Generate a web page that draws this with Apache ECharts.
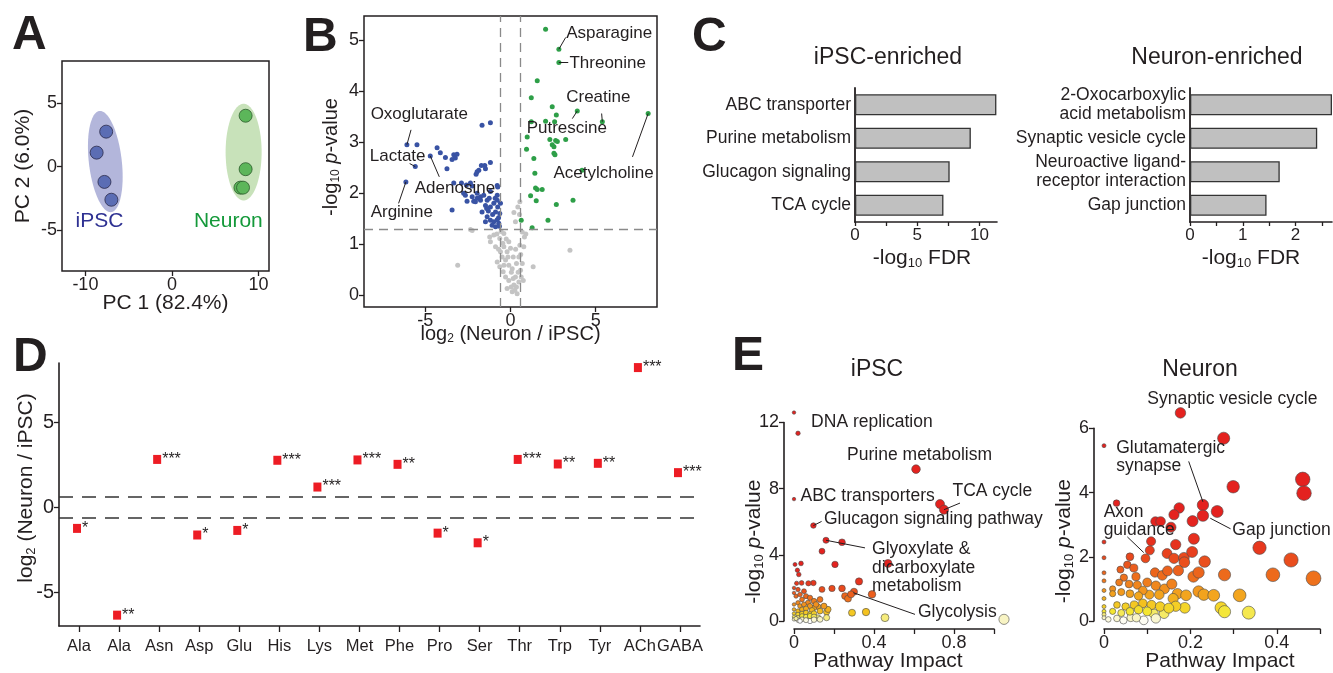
<!DOCTYPE html>
<html>
<head>
<meta charset="utf-8">
<script src="https://cdn.jsdelivr.net/npm/echarts@6/dist/echarts.min.js"></script>
<style>
  html, body { margin: 0; padding: 0; background: #fff; }
  #chart { width: 1333px; height: 673px; }
</style>
</head>
<body>
<div id="chart"></div>
<script>
// ---- panel A: PCA scores ----
const aIpsc = [[-7.6, 2.75], [-8.7, 1.1], [-7.8, -1.2], [-7.0, -2.6]];
const aNeuron = [[8.5, 4.0], [8.5, -0.2], [7.9, -1.65], [8.2, -1.65]];
// ellipse: centre x, centre y, half width, half height (data units), tilt in degrees
const aEllipseIpsc = [-7.7, 0.4, 1.9, 4.0, -6.6];
const aEllipseNeuron = [8.27, 1.14, 2.08, 3.8, 0];
const aGroupNames = ['iPSC', 'Neuron'];
const aGroupLabelPos = [[-11.2, -4.3], [2.47, -4.3]];

// ---- panel B: volcano ----
const bBlue = [[-6.08,2.95],[-5.49,2.95],[-5.59,2.52],[-6.14,2.22],[-4.71,2.73],[-4.31,2.89],[-4.12,2.79],[-3.82,2.70],[-3.73,2.48],[-3.33,2.75],[-3.14,2.76],[-3.43,2.66],[-3.24,2.69],[-3.43,1.67],[-1.67,3.33],[-1.18,3.38],[-1.18,2.60],[-1.51,2.54],[-1.71,2.54],[-1.86,2.45],[-1.96,2.42],[-2.02,2.37],[-1.47,2.48],[-3.33,2.20],[-2.88,2.20],[-2.75,2.00],[-2.59,2.16],[-2.35,2.20],[-2.25,2.14],[-1.96,2.00],[-2.55,1.84],[-2.16,1.84],[-1.96,1.90],[-1.76,1.93],[-0.78,2.15],[-2.65,1.96],[-2.25,1.93],[-2.06,1.83],[-1.76,1.86],[-1.47,1.76],[-1.18,1.73],[-0.98,1.80],[-0.78,1.86],[-0.75,1.73],[-0.63,1.60],[-1.67,1.63],[-1.37,1.54],[-1.18,1.47],[-0.98,1.44],[-0.78,1.48],[-0.69,1.41],[-1.47,1.44],[-0.88,1.63],[-0.59,1.80],[-0.75,2.12],[-1.18,2.03],[-0.78,1.96],[-1.57,1.96],[-1.37,1.86],[-0.88,1.34],[-1.08,1.37],[-1.30,1.65],[-1.05,1.58],[-0.70,1.52],[-1.25,1.90],[-0.90,1.90],[-0.65,1.35],[-1.40,1.70]];
const bGreen = [[2.06,5.21],[2.84,4.82],[2.84,4.56],[1.57,4.20],[1.22,3.87],[3.92,3.61],[5.39,3.40],[8.08,3.56],[2.45,3.69],[2.69,3.53],[2.06,3.41],[1.22,3.40],[0.98,3.10],[2.31,3.05],[2.65,3.03],[2.55,2.91],[2.75,3.01],[3.24,3.05],[2.55,2.78],[2.61,2.75],[0.94,2.86],[1.37,2.68],[1.43,2.39],[1.47,2.10],[1.57,2.07],[1.86,2.07],[1.18,1.95],[1.51,1.85],[2.69,1.78],[3.67,1.86],[0.63,1.47],[2.20,1.47],[1.27,1.32],[4.20,2.45],[2.59,3.40],[2.45,2.95]];
const bGray = [[-2.35,1.29],[-3.10,0.59],[3.49,0.88],[1.33,0.56],[0.55,1.83],[0.43,1.73],[0.20,1.62],[0.29,1.44],[0.53,1.58],[-2.25,1.27],[-1.22,1.14],[-0.98,1.18],[-1.18,1.05],[-0.88,0.95],[-0.63,1.11],[-0.39,1.21],[-0.10,1.05],[-0.59,0.85],[-0.49,0.75],[-0.78,0.65],[-0.63,0.56],[-0.43,0.46],[-0.29,0.36],[-0.10,0.29],[0.04,0.16],[0.10,0.07],[-0.20,0.13],[0.20,0.20],[0.39,0.03],[0.29,0.36],[0.59,0.49],[0.69,0.62],[0.35,0.62],[0.10,0.52],[0.16,0.75],[0.00,0.92],[0.55,0.98],[0.82,1.14],[0.69,1.24],[-0.39,0.95],[-0.20,0.85],[-0.29,0.69],[-0.10,0.59],[-0.39,0.59],[0.16,0.33],[0.35,0.16],[0.49,0.26],[0.63,0.36],[0.75,0.29],[0.49,0.75],[0.78,0.95],[-0.55,1.25],[-0.45,1.02],[-0.70,0.90],[-0.25,1.10],[0.05,0.45],[0.25,0.10],[0.45,0.45],[0.60,0.80],[-0.15,0.75],[0.30,0.90],[0.90,1.20],[-0.80,1.20]];
const bLabelText = ['Asparagine', 'Threonine', 'Creatine', 'Putrescine', 'Acetylcholine', 'Oxoglutarate', 'Lactate', 'Adenosine', 'Arginine'];
const bLabelPos = [[3.24,5.13],[3.43,4.54],[3.24,3.87],[0.92,3.27],[2.49,2.39],[-8.24,3.54],[-8.29,2.73],[-5.65,2.09],[-8.24,1.63]];
const bLeaders = [[[2.84,4.82],[3.24,5.05]],[[2.84,4.56],[3.39,4.56]],[[5.39,3.40],[5.35,3.56]],[[3.92,3.61],[3.63,3.46]],[[8.08,3.56],[7.16,2.71]],[[-6.08,2.95],[-5.84,3.24]],[[-5.59,2.52],[-5.92,2.58]],[[-4.71,2.73],[-4.18,2.32]],[[-6.14,2.22],[-6.57,1.80]]];
const bFoldCut = 0.585;
const bPCut = 1.3;

// ---- panel C: enrichment ----
const c1Names = ['ABC transporter', 'Purine metabolism', 'Glucagon signaling', 'TCA cycle'];
const c1Vals = [11.35, 9.3, 7.6, 7.1];
const c2Names = ['2-Oxocarboxylic\nacid metabolism', 'Synaptic vesicle cycle', 'Neuroactive ligand-\nreceptor interaction', 'Gap junction'];
const c2Vals = [2.69, 2.41, 1.70, 1.45];

// ---- panel D: amino acids ----
const dCats = ['Ala', 'Ala', 'Asn', 'Asp', 'Glu', 'His', 'Lys', 'Met', 'Phe', 'Pro', 'Ser', 'Thr', 'Trp', 'Tyr', 'ACh', 'GABA'];
const dVals = [-1.24, -6.36, 2.83, -1.63, -1.36, 2.78, 1.2, 2.8, 2.54, -1.52, -2.09, 2.83, 2.56, 2.6, 8.25, 2.05];
const dStars = ['*', '**', '***', '*', '*', '***', '***', '***', '**', '*', '*', '***', '**', '**', '***', '***'];
const dCut = 0.63;

// ---- panel E: pathway analysis ----
const e1Points = [[0.0,12.6],[0.02,11.35],[0.0,7.37],[0.61,9.18],[0.73,7.07],[0.75,6.73],[0.097,5.77],[0.16,4.88],[0.24,4.76],[0.14,4.22],[0.47,3.48],[0.205,3.42],[0.005,3.42],[0.035,3.48],[0.017,3.07],[0.024,2.81],[0.325,2.39],[0.30,1.77],[0.39,1.61],[0.24,1.97],[0.19,1.97],[0.255,1.51],[0.27,1.35],[0.285,1.61],[0.14,1.91],[0.097,2.3],[0.072,2.28],[0.038,2.3],[0.013,2.28],[0.36,0.54],[0.29,0.5],[0.455,0.2],[1.05,0.1],[0.163,0.54],[0.17,0.7],[0.12,0.87],[0.10,0.8],[0.15,0.9],[0.163,0.2],[0.12,0.2],[0.08,0.0],[0.0,2.0],[0.0,1.7],[0.01,1.5],[0.02,1.9],[0.03,1.6],[0.05,1.8],[0.06,1.5],[0.04,1.3],[0.08,1.4],[0.1,1.2],[0.13,1.3],[0.07,1.1],[0.02,1.1],[0.0,1.0],[0.03,0.9],[0.05,1.0],[0.08,0.9],[0.11,1.0],[0.0,0.7],[0.02,0.6],[0.04,0.7],[0.06,0.75],[0.09,0.65],[0.13,0.6],[0.0,0.45],[0.02,0.4],[0.04,0.45],[0.06,0.5],[0.08,0.4],[0.1,0.45],[0.0,0.25],[0.02,0.2],[0.04,0.3],[0.06,0.25],[0.08,0.3],[0.1,0.25],[0.0,0.1],[0.02,0.05],[0.04,0.1],[0.06,0.05],[0.1,0.08],[0.13,0.1],[0.01,0.15],[0.03,0.0]];
const e2Points = [[0.177,6.48],[0.277,5.69],[0.0,5.46],[0.299,4.18],[0.46,4.41],[0.463,3.98],[0.029,3.67],[0.229,3.61],[0.262,3.41],[0.229,3.28],[0.174,3.52],[0.162,3.31],[0.119,3.10],[0.131,3.10],[0.155,2.92],[0.205,3.11],[0.208,2.56],[0.166,2.38],[0.109,2.48],[0.106,2.2],[0.096,1.95],[0.06,2.0],[0.0,2.46],[0.0,1.97],[0.146,2.1],[0.162,1.95],[0.185,1.97],[0.204,2.15],[0.186,1.83],[0.172,1.57],[0.233,1.85],[0.36,2.28],[0.433,1.9],[0.391,1.44],[0.485,1.33],[0.279,1.44],[0.207,1.38],[0.219,1.51],[0.118,1.51],[0.135,1.42],[0.147,1.56],[0.054,1.75],[0.038,1.6],[0.069,1.65],[0.046,1.35],[0.074,1.38],[0.035,1.2],[0.058,1.15],[0.077,1.12],[0.1,1.2],[0.12,1.1],[0.14,1.0],[0.157,1.15],[0.128,0.82],[0.105,0.82],[0.09,0.95],[0.0,1.5],[0.0,1.25],[0.0,0.95],[0.0,0.7],[0.02,1.0],[0.02,0.85],[0.04,0.9],[0.06,0.85],[0.08,0.78],[0.219,0.92],[0.231,0.82],[0.254,0.8],[0.314,0.8],[0.17,0.85],[0.19,0.8],[0.16,0.7],[0.271,0.41],[0.279,0.29],[0.335,0.26],[0.187,0.41],[0.166,0.46],[0.139,0.23],[0.115,0.23],[0.092,0.02],[0.062,0.1],[0.03,0.5],[0.05,0.45],[0.07,0.5],[0.09,0.55],[0.11,0.5],[0.13,0.45],[0.15,0.4],[0.02,0.3],[0.04,0.25],[0.06,0.3],[0.08,0.35],[0.1,0.3],[0.0,0.45],[0.0,0.3],[0.0,0.2],[0.0,0.1],[0.01,0.05],[0.03,0.08],[0.045,0.02],[0.075,0.1],[0.12,0.08]];
const e1LabelText = ['DNA replication', 'Purine metabolism', 'ABC transporters', 'TCA cycle', 'Glucagon signaling pathway', 'Glyoxylate &\ndicarboxylate\nmetabolism', 'Glycolysis'];
const e1LabelPos = [[0.083,12.05],[0.263,10.04],[0.03,7.53],[0.79,7.83],[0.147,6.17],[0.388,3.22],[0.617,0.54]];
const e1Leaders = [[[0.0,12.6],[0.067,12.15]],[[0.75,6.73],[0.83,7.13]],[[0.097,5.77],[0.138,6.02]],[[0.16,4.88],[0.355,4.42]],[[0.297,1.71],[0.605,0.4]]];
const e2LabelText = ['Synaptic vesicle cycle', 'Glutamatergic\nsynapse', 'Axon\nguidance', 'Gap junction'];
const e2LabelPos = [[0.099,6.92],[0.027,5.1],[-0.002,3.11],[0.296,2.82]];
const e2Leaders = [[[0.196,4.97],[0.229,3.71]],[[0.054,2.62],[0.092,2.13]],[[0.246,3.2],[0.293,2.87]]];

const FONT = "'Liberation Sans', Arial, Helvetica, sans-serif";
const INK = '#231f20';

// heat colours for -log10 p
const HEAT = [[0, '#ffffff'], [0.12, '#f7f2b8'], [0.3, '#f4e531'], [0.55, '#f4c11f'], [0.9, '#f29a1d'], [1.3, '#ee731c'], [1.8, '#ea521d'], [2.4, '#e6321e'], [3.2, '#e4221f']];
function mix(a, b, t) {
    const ch = h => { const n = parseInt(h.slice(1), 16); return [(n >> 16) & 255, (n >> 8) & 255, n & 255]; };
    const A = ch(a), B = ch(b);
    return 'rgb(' + A.map((x, i) => Math.round(x + (B[i] - x) * t)).join(',') + ')';
}
function heat(v) {
    if (v <= HEAT[0][0]) return HEAT[0][1];
    for (let k = 1; k < HEAT.length; k++) {
        if (v <= HEAT[k][0]) {
            return mix(HEAT[k - 1][1], HEAT[k][1], (v - HEAT[k - 1][0]) / (HEAT[k][0] - HEAT[k - 1][0]));
        }
    }
    return HEAT[HEAT.length - 1][1];
}

function ellipseItem(params, api) {
    const c = api.coord([api.value(0), api.value(1)]);
    const s = api.size([api.value(2), api.value(3)]);
    const th = api.value(4) * Math.PI / 180;
    const pts = [];
    for (let k = 0; k < 90; k++) {
        const t = k / 90 * Math.PI * 2;
        const u = s[0] * Math.cos(t), v = s[1] * Math.sin(t);
        pts.push([c[0] + u * Math.cos(th) - v * Math.sin(th), c[1] + u * Math.sin(th) + v * Math.cos(th)]);
    }
    return { type: 'polygon', shape: { points: pts }, style: { fill: api.visual('color') }, silent: true };
}

function rich(size) {
    return {
        s: { fontSize: Math.round(size * 0.62), fontFamily: FONT, color: INK, padding: [Math.round(size * 0.5), 0, 0, 0] },
        i: { fontSize: size, fontFamily: FONT, color: INK, fontStyle: 'italic' }
    };
}
function nameStyle(size, padding) {
    return { fontSize: size, fontFamily: FONT, color: INK, rich: rich(size), padding: padding || 0 };
}

function valueAxis(gi, min, max, ticks, labels, extra) {
    const ax = {
        type: 'value', gridIndex: gi, min: min, max: max,
        nameMoveOverlap: false,
        splitLine: { show: false },
        axisLine: { show: false, onZero: false, lineStyle: { color: INK, width: 1.6 } },
        axisTick: { show: true, customValues: ticks, length: 5, lineStyle: { color: INK, width: 1.3 } },
        axisLabel: { customValues: labels || ticks, color: INK, fontSize: 18, fontFamily: FONT, margin: 5 }
    };
    return Object.assign(ax, extra || {});
}

function annotate(gi, texts, pos, leaders, size, color) {
    return {
        type: 'scatter', xAxisIndex: gi, yAxisIndex: gi, symbolSize: 1, silent: true, clip: false, z: 6,
        itemStyle: { color: 'rgba(0,0,0,0)', opacity: 1 },
        data: texts.map((t, i) => ({ name: t, value: pos[i] })),
        label: { show: true, position: 'right', distance: 0, formatter: '{b}', fontSize: size, lineHeight: size + 1,
                 color: color || INK, fontFamily: FONT, opacity: 1 },
        markLine: {
            silent: true, symbol: 'none', animation: false, label: { show: false },
            lineStyle: { color: INK, width: 1, type: 'solid', opacity: 1 },
            data: (leaders || []).map(l => [{ coord: l[0] }, { coord: l[1] }])
        }
    };
}

const chart = echarts.init(document.getElementById('chart'), null, { renderer: 'canvas' });

const xAxes = [
    valueAxis(0, -12.7, 11.2, [-10, 0, 10], null, {
        name: 'PC 1 (82.4%)', nameLocation: 'middle', nameGap: 22, nameTextStyle: nameStyle(21) }),
    valueAxis(1, -8.6, 8.6, [-5, 0, 5], null, {
        name: 'log{s|2} (Neuron / iPSC)', nameLocation: 'middle', nameGap: 16, nameTextStyle: nameStyle(20) }),
    valueAxis(2, 0, 11.4, [0, 2.5, 5, 7.5, 10], [0, 5, 10], {
        name: '-log{s|10} FDR', nameLocation: 'middle', nameGap: 24, nameTextStyle: nameStyle(21, [0, 8, 0, 0]) }),
    valueAxis(3, 0, 2.69, [0, 0.5, 1, 1.5, 2, 2.5], [0, 1, 2], {
        name: '-log{s|10} FDR', nameLocation: 'middle', nameGap: 24, nameTextStyle: nameStyle(21, [0, 20, 0, 0]) }),
    {
        type: 'category', gridIndex: 4, data: dCats, boundaryGap: true,
        axisLine: { show: true, onZero: false, lineStyle: { color: INK, width: 1.6 } },
        axisTick: { show: true, alignWithLabel: true, length: 6, lineStyle: { color: INK, width: 1.3 } },
        axisLabel: { interval: 0, color: INK, fontSize: 16.5, fontFamily: FONT, margin: 12 },
        splitLine: { show: false }
    },
    valueAxis(5, 0, 1.0, [0, 0.2, 0.4, 0.6, 0.8, 1.0], [0, 0.4, 0.8], {
        offset: 8, name: 'Pathway Impact', nameLocation: 'middle', nameGap: 22, nameTextStyle: nameStyle(21, [0, 12, 0, 0]) }),
    valueAxis(6, 0, 0.5, [0, 0.1, 0.2, 0.3, 0.4, 0.5], [0, 0.2, 0.4], {
        offset: 8, name: 'Pathway Impact', nameLocation: 'middle', nameGap: 22, nameTextStyle: nameStyle(21, [0, 0, 0, 16]) })
];
xAxes[2].axisLine.show = true;
xAxes[3].axisLine.show = true;
xAxes[5].axisLine.show = true;
xAxes[6].axisLine.show = true;
xAxes[2].axisTick.length = 4;
xAxes[3].axisTick.length = 4;
xAxes[2].axisLabel.fontSize = 17;
xAxes[3].axisLabel.fontSize = 17;

const yAxes = [
    valueAxis(0, -8.2, 8.3, [-5, 0, 5], null, {
        name: 'PC 2 (6.0%)', nameLocation: 'middle', nameGap: 28, nameTextStyle: nameStyle(21) }),
    valueAxis(1, -0.23, 5.47, [0, 1, 2, 3, 4, 5], null, {
        name: '-log{s|10} {i|p}-value', nameLocation: 'middle', nameGap: 22, nameTextStyle: nameStyle(20, [0, 0, 0, 9]) }),
    {
        type: 'category', gridIndex: 2, data: c1Names, inverse: true,
        axisLine: { show: true, onZero: false, lineStyle: { color: INK, width: 1.8 } },
        axisTick: { show: false },
        axisLabel: { interval: 0, color: INK, fontSize: 17.5, fontFamily: FONT, margin: 4, lineHeight: 19 }
    },
    {
        type: 'category', gridIndex: 3, data: c2Names, inverse: true,
        axisLine: { show: true, onZero: false, lineStyle: { color: INK, width: 1.8 } },
        axisTick: { show: false },
        axisLabel: { interval: 0, color: INK, fontSize: 17.5, fontFamily: FONT, margin: 4, lineHeight: 19 }
    },
    valueAxis(4, -7.0, 8.52, [-5, 0, 5], null, {
        name: 'log{s|2} (Neuron / iPSC)', nameLocation: 'middle', nameGap: 21, nameTextStyle: nameStyle(21, [0, 0, 0, 13]) }),
    valueAxis(5, 0, 12, [0, 4, 8, 12], null, {
        offset: 10, name: '-log{s|10} {i|p}-value', nameLocation: 'middle', nameGap: 18, nameTextStyle: nameStyle(21, [0, 40, 0, 0]) }),
    valueAxis(6, 0, 6, [0, 2, 4, 6], null, {
        offset: 10, name: '-log{s|10} {i|p}-value', nameLocation: 'middle', nameGap: 18, nameTextStyle: nameStyle(21, [0, 33, 0, 0]) })
];
yAxes[4].axisLine.show = true;
yAxes[5].axisLine.show = true;
yAxes[6].axisLine.show = true;
yAxes[4].axisLabel.fontSize = 20;

const series = [];
// A
series.push({ type: 'custom', xAxisIndex: 0, yAxisIndex: 0, renderItem: ellipseItem, data: [aEllipseIpsc], itemStyle: { color: '#b3b6db' }, silent: true, z: 1, clip: false });
series.push({ type: 'custom', xAxisIndex: 0, yAxisIndex: 0, renderItem: ellipseItem, data: [aEllipseNeuron], itemStyle: { color: '#c8e2ba' }, silent: true, z: 1, clip: false });
series.push({ type: 'scatter', xAxisIndex: 0, yAxisIndex: 0, data: aIpsc, symbolSize: 13, z: 3,
    itemStyle: { color: '#5b6db4', borderColor: '#2a2a4a', borderWidth: 0.8, opacity: 1 } });
series.push({ type: 'scatter', xAxisIndex: 0, yAxisIndex: 0, data: aNeuron, symbolSize: 13, z: 3,
    itemStyle: { color: '#5cb65a', borderColor: '#2b5a2b', borderWidth: 0.8, opacity: 1 } });
series.push(annotate(0, [aGroupNames[0]], [aGroupLabelPos[0]], [], 21, '#2e3192'));
series.push(annotate(0, [aGroupNames[1]], [aGroupLabelPos[1]], [], 21, '#14993a'));

// B
const dashB = { color: '#8a8a8a', width: 1.3, type: [9, 6] };
series.push({ type: 'scatter', xAxisIndex: 1, yAxisIndex: 1, data: bGray, symbolSize: 5, z: 2,
    itemStyle: { color: '#c4c4c4', opacity: 1 },
    markLine: { silent: true, symbol: 'none', animation: false, label: { show: false }, lineStyle: dashB,
        data: [{ xAxis: -bFoldCut }, { xAxis: bFoldCut }, { yAxis: bPCut }] } });
series.push({ type: 'scatter', xAxisIndex: 1, yAxisIndex: 1, data: bBlue, symbolSize: 5, z: 3, itemStyle: { color: '#3953a4', opacity: 1 } });
series.push({ type: 'scatter', xAxisIndex: 1, yAxisIndex: 1, data: bGreen, symbolSize: 5, z: 3, itemStyle: { color: '#2e9f48', opacity: 1 } });
series.push(annotate(1, bLabelText, bLabelPos, bLeaders, 17));

// C
const barStyle = { color: '#c0c0c0', borderColor: '#333', borderWidth: 1.3 };
series.push({ type: 'bar', xAxisIndex: 2, yAxisIndex: 2, data: c1Vals, barWidth: 21, itemStyle: barStyle, silent: true });
series.push({ type: 'bar', xAxisIndex: 3, yAxisIndex: 3, data: c2Vals, barWidth: 21, itemStyle: barStyle, silent: true });

// D
series.push({ type: 'scatter', xAxisIndex: 4, yAxisIndex: 4, data: dVals.map((v, i) => [i, v, dStars[i]]),
    symbol: 'rect', symbolSize: [8, 9], symbolOffset: [-2, 0], z: 3,
    itemStyle: { color: '#ed1c24', opacity: 1 },
    label: { show: true, position: 'right', distance: 1, formatter: p => p.value[2], fontSize: 16, color: INK, fontFamily: FONT },
    markLine: { silent: true, symbol: 'none', animation: false, label: { show: false },
        lineStyle: { color: '#333', width: 1.6, type: [14, 9] },
        data: [{ yAxis: dCut }, { yAxis: -dCut }] } });

// E
series.push({ type: 'scatter', xAxisIndex: 5, yAxisIndex: 5, data: e1Points, clip: false, z: 3,
    symbolSize: v => 3.5 + 6.5 * Math.sqrt(Math.max(v[0], 0)),
    itemStyle: { color: p => heat(p.value[1]), borderColor: '#4a4a4a', borderWidth: 0.6, opacity: 1 } });
series.push({ type: 'scatter', xAxisIndex: 6, yAxisIndex: 6, data: e2Points, clip: false, z: 3,
    symbolSize: v => 4 + 15.5 * Math.sqrt(Math.max(v[0], 0)),
    itemStyle: { color: p => heat(p.value[1]), borderColor: '#4a4a4a', borderWidth: 0.6, opacity: 1 } });
series.push(annotate(5, e1LabelText, e1LabelPos, e1Leaders, 17.5));
series.push(annotate(6, e2LabelText, e2LabelPos, e2Leaders, 17.5));

const letter = (t, x, y) => ({ type: 'text', x: x, y: y, silent: true,
    style: { text: t, font: 'bold 48px ' + FONT, fill: INK, textAlign: 'left', textVerticalAlign: 'middle' } });
const title = (t, x, y) => ({ type: 'text', x: x, y: y, silent: true,
    style: { text: t, font: '23px ' + FONT, fill: INK, textAlign: 'center', textVerticalAlign: 'middle' } });

chart.setOption({
    animation: false,
    backgroundColor: '#ffffff',
    textStyle: { fontFamily: FONT },
    grid: [
        { left: 62, top: 61, width: 207, height: 210, show: true, borderColor: INK, borderWidth: 1.5 },
        { left: 364, top: 16, width: 293, height: 291, show: true, borderColor: INK, borderWidth: 1.5 },
        { left: 855, top: 88, width: 142, height: 134 },
        { left: 1190, top: 88, width: 142, height: 134 },
        { left: 59, top: 363, width: 641, height: 263 },
        { left: 794, top: 422.5, width: 200, height: 199.2 },
        { left: 1104, top: 428.3, width: 216, height: 194.4 }
    ],
    xAxis: xAxes,
    yAxis: yAxes,
    series: series,
    graphic: [
        letter('A', 12, 36), letter('B', 303, 38), letter('C', 692, 38), letter('D', 13, 358), letter('E', 732, 357),
        title('iPSC-enriched', 888, 58), title('Neuron-enriched', 1217, 58),
        title('iPSC', 877, 370), title('Neuron', 1200, 370)
    ]
});
</script>
</body>
</html>
